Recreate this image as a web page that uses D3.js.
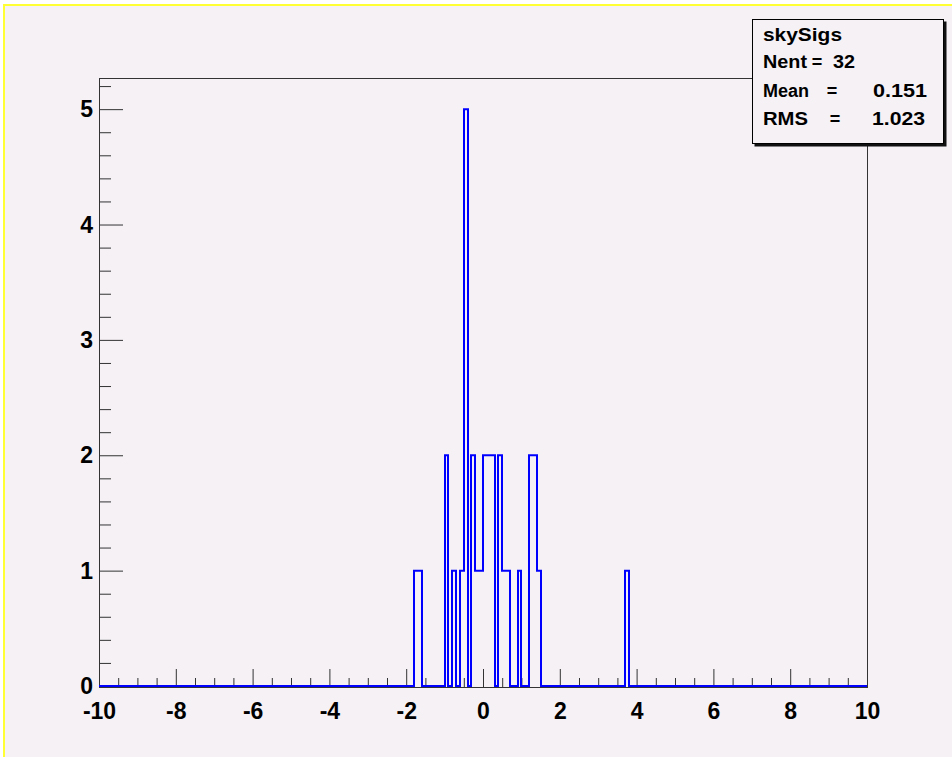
<!DOCTYPE html>
<html>
<head>
<meta charset="utf-8">
<script src="https://d3js.org/d3.v7.min.js"></script>
<style>
body { margin: 0; background: #fff; }
svg text { font-family: "Liberation Sans", Arial, sans-serif; font-weight: bold; }
</style>
</head>
<body>
<div id="chart"></div>
<script>

// histogram definition (ROOT TH1, 200 bins on [-10, 10])
var histRange = [-10, 10];
var nBins = 200;
// left edges of the filled bins and their contents
var binLeft = [-1.8, -1.7, -1.0, -0.8, -0.6, -0.5, -0.3, -0.2, -0.1, 0.0, 0.1, 0.2, 0.4, 0.5, 0.6, 0.9, 1.2, 1.3, 1.4, 3.7];
var binCount = [1, 1, 2, 1, 1, 5, 2, 1, 1, 2, 2, 2, 2, 1, 1, 1, 2, 2, 1, 1];

var xTicks = [-10, -8, -6, -4, -2, 0, 2, 4, 6, 8, 10];
var yTicks = [0, 1, 2, 3, 4, 5];

var statTitle = "skySigs";
var statNames = ["Nent", "Mean", "RMS"];
var statValues = ["32", "0.151", "1.023"];

var W = 952, H = 757;
var bg = "#f5f1f5";

var svg = d3.select("#chart")
  .append("svg")
    .attr("width", W)
    .attr("height", H);

// canvas + yellow border (top & left visible)
svg.append("rect").attr("x", 4).attr("y", 5).attr("width", W).attr("height", H).attr("fill", bg);
svg.append("line").attr("x1", 3).attr("x2", W).attr("y1", 5).attr("y2", 5)
  .attr("stroke", "#ffff33").attr("stroke-width", 2);
svg.append("line").attr("x1", 4).attr("x2", 4).attr("y1", 4).attr("y2", H)
  .attr("stroke", "#ffff33").attr("stroke-width", 2);

var x = d3.scaleLinear().domain(histRange).range([99, 867]);
var y = d3.scaleLinear().domain([0, 5.27]).range([686, 78]);

// minor ticks
var xMinor = d3.range(-10, 10.001, 0.5).filter(function(v){ return Math.abs(v % 2) > 1e-6; });
var yMinor = d3.range(0, 5.21, 0.2).filter(function(v){ return Math.abs(v - Math.round(v)) > 1e-6; });

var axisColor = "#333";
var plain = function(d){ return String(d); };

svg.append("g")
  .attr("transform", "translate(0,687)")
  .call(d3.axisBottom(x).tickValues(xMinor).tickSize(-9).tickFormat(""))
  .call(function(g){ g.select(".domain").remove(); g.selectAll("line").attr("stroke", axisColor); });

svg.append("g")
  .attr("transform", "translate(0,687)")
  .call(d3.axisBottom(x).tickValues(xTicks).tickSize(-18).tickPadding(16).tickFormat(plain))
  .call(function(g){
    g.select(".domain").remove();
    g.selectAll("line").attr("stroke", axisColor);
    g.selectAll("text").attr("font-size", 23).attr("fill", "#000")
      .style("font-family", "'Liberation Sans', Arial, sans-serif").style("font-weight", "bold");
  });

svg.append("g")
  .attr("transform", "translate(99,0)")
  .call(d3.axisLeft(y).tickValues(yMinor).tickSize(-12).tickFormat(""))
  .call(function(g){ g.select(".domain").remove(); g.selectAll("line").attr("stroke", axisColor); });

svg.append("g")
  .attr("transform", "translate(99,0)")
  .call(d3.axisLeft(y).tickValues(yTicks).tickSize(-24).tickPadding(6).tickFormat(plain))
  .call(function(g){
    g.select(".domain").remove();
    g.selectAll("line").attr("stroke", axisColor);
    g.selectAll("text").attr("font-size", 23).attr("fill", "#000").attr("dy", "0.33em")
      .style("font-family", "'Liberation Sans', Arial, sans-serif").style("font-weight", "bold");
  });

// frame
svg.append("rect")
  .attr("x", 99.5).attr("y", 78.5)
  .attr("width", 768).attr("height", 609)
  .attr("fill", "none").attr("stroke", axisColor).attr("stroke-width", 1);

// histogram as a step outline
var bw = (histRange[1] - histRange[0]) / nBins;
var contents = new Array(nBins).fill(0);
binLeft.forEach(function(v, i) {
  contents[Math.round((v - histRange[0]) / bw)] = binCount[i];
});
var pts = [];
contents.forEach(function(c, i) {
  var lo = histRange[0] + i * bw;
  pts.push([lo, c], [lo + bw, c]);
});

svg.append("path")
  .datum(pts)
  .attr("fill", "none")
  .attr("stroke", "#0000ff")
  .attr("stroke-width", 2)
  .attr("d", d3.line()
    .x(function(d){ return Math.round(x(d[0])); })
    .y(function(d){ return y(d[1]); }));

// stats box
var bx = 752.5, by = 19.5, bwid = 191, bh = 124;
svg.append("rect").attr("x", bx + 2).attr("y", by + 2).attr("width", bwid + 1).attr("height", bh + 1).attr("fill", "#111");
svg.append("rect").attr("x", bx).attr("y", by).attr("width", bwid).attr("height", bh)
  .attr("fill", bg).attr("stroke", "#000").attr("stroke-width", 1);

var st = svg.append("g").attr("fill", "#000");
st.append("text").attr("x", 763).attr("y", 41).attr("font-size", 18).attr("textLength", 79)
  .attr("lengthAdjust", "spacingAndGlyphs").text(statTitle);

var rowY = [68, 97, 125];
var nameLen = [44, 46, 45];
var eqX = [817, 832, 835];
var valX = [833, 873, 872];
var valLen = [22, 54, 53];
statNames.forEach(function(n, i) {
  st.append("text").attr("x", 763).attr("y", rowY[i]).attr("font-size", 18).attr("textLength", nameLen[i])
    .attr("lengthAdjust", "spacingAndGlyphs").text(n);
  st.append("text").attr("x", eqX[i]).attr("y", rowY[i]).attr("font-size", 18).attr("text-anchor", "middle").text("=");
  st.append("text").attr("x", valX[i]).attr("y", rowY[i]).attr("font-size", 18).attr("textLength", valLen[i])
    .attr("lengthAdjust", "spacingAndGlyphs").text(statValues[i]);
});

</script>
</body>
</html>
